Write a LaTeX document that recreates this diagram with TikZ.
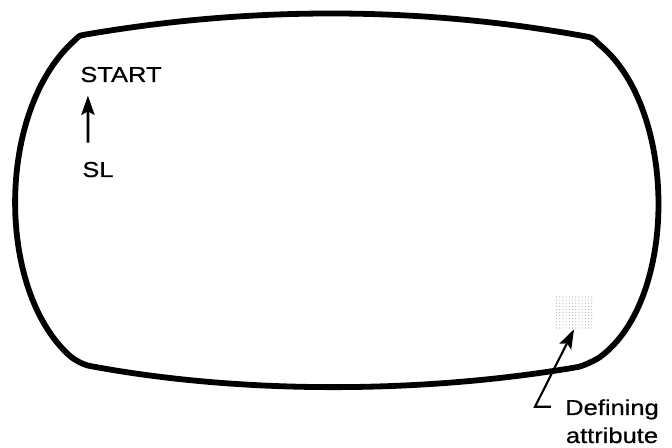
\documentclass[tikz,border=0pt]{standalone}
\usepackage{fontspec}
\setsansfont{Liberation Sans}[FakeStretch=1.18, FakeBold=0.7]
\usetikzlibrary{positioning,arrows.meta}
\definecolor{grain}{gray}{0.68}
\tikzset{
  lbl/.style={inner sep=0pt, anchor=base},
  arr/.style={-{Stealth[length=11pt, width=7.5pt, inset=2pt]}, line width=1.5pt}}
\begin{document}
\begin{tikzpicture}[x=0.02cm, y=-0.02cm, font=\sffamily\fontsize{12.3}{14}\selectfont,
  screen/.style={line width=3.3pt, line join=round},
  cellbox/.style={minimum width=21.5pt, minimum height=18.7pt, inner sep=0pt}]
\useasboundingbox (0,0) rectangle (672,448);
% screen outline
\draw[screen] (83,35) .. controls (250,6) and (420,6) .. (589,37)
  .. controls (594,38) and (596,41.8) .. (600,45)
  .. controls (678,110) and (678,300) .. (600,357)
  .. controls (596,360) and (583,366) .. (578,367)
  .. controls (420,394) and (240,394) .. (90,366)
  .. controls (84,365) and (74.5,360) .. (70,356)
  .. controls (-4,290) and (-4,110) .. (75,40)
  .. controls (78.8,36.7) and (78,35.9) .. cycle;
\node[lbl, anchor=base west] (start) at (80,82) {START};
\node[lbl, anchor=base west] (sl) at (82,177) {SL};
\draw[arr] ([shift={(3.4pt,10.8pt)}]sl.north west) -- ([shift={(4.5pt,-7.4pt)}]start.south west);
% defining attribute cell
\node[cellbox] (attr) at (574,312.5) {};
\foreach \i in {0,...,11}
  \foreach \j in {0,...,10}
    \fill[grain] (556.5+3.2*\i,297+3.1*\j) circle (0.33pt);
\node[lbl] (def) at (612,415) {Defining};
\node[lbl] (defb) at (612,443) {attribute};
\draw[arr, line width=1.2pt] ([shift={(-8pt,1.5pt)}]def.west) -- ++(-9pt,0) coordinate (bend) -- (attr.south);
\end{tikzpicture}
\end{document}
